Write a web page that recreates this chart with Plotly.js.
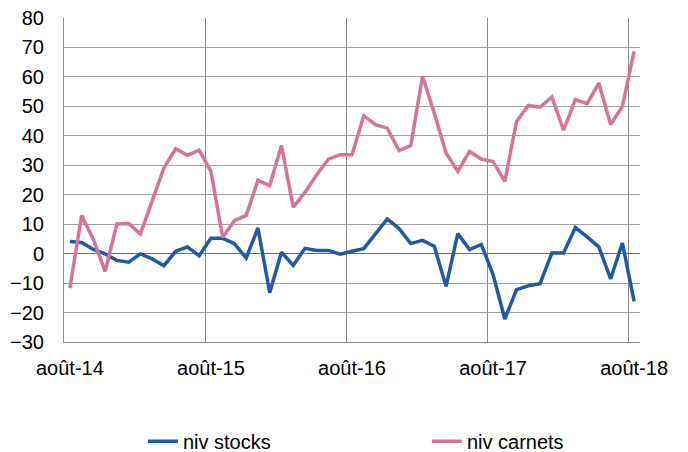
<!DOCTYPE html>
<html>
<head>
<meta charset="utf-8">
<script src="https://cdn.plot.ly/plotly-3.0.1.min.js"></script>
<style>html,body{margin:0;padding:0;background:#fff}#chart{width:688px;height:452px}</style>
</head>
<body>
<div id="chart"></div>
<script>
const months = [
  "août-14","sept-14","oct-14","nov-14","déc-14","janv-15","févr-15","mars-15","avr-15","mai-15","juin-15","juil-15",
  "août-15","sept-15","oct-15","nov-15","déc-15","janv-16","févr-16","mars-16","avr-16","mai-16","juin-16","juil-16",
  "août-16","sept-16","oct-16","nov-16","déc-16","janv-17","févr-17","mars-17","avr-17","mai-17","juin-17","juil-17",
  "août-17","sept-17","oct-17","nov-17","déc-17","janv-18","févr-18","mars-18","avr-18","mai-18","juin-18","juil-18",
  "août-18"
];
const nivStocks = [
  4.1, 3.8, 1.4, -0.1, -2.3, -2.9, -0.1, -1.8, -4.1, 0.8, 2.3, -0.7,
  5.2, 5.2, 3.4, -1.5, 8.7, -13.3, 0.5, -4.0, 1.8, 1.1, 1.1, -0.2,
  0.8, 1.7, 6.7, 11.8, 8.5, 3.4, 4.5, 2.5, -11.1, 6.8, 1.4, 3.1,
  -7.1, -22.2, -12.2, -10.9, -10.2, 0.2, 0.2, 8.9, 5.7, 2.3, -8.6, 3.6,
  -16.2
];
const nivCarnets = [
  -11.7, 12.9, 4.8, -6.0, 10.1, 10.2, 6.7, 17.5, 29.1, 35.6, 33.4, 35.1,
  27.9, 5.5, 11.2, 13.0, 24.9, 23.1, 36.7, 15.8, 20.8, 26.8, 32.1, 33.6,
  33.6, 46.8, 43.8, 42.6, 35.0, 36.7, 60.2, 47.7, 34.2, 27.9, 34.7, 32.1,
  31.3, 24.5, 44.9, 50.3, 49.7, 53.2, 41.9, 52.3, 50.9, 57.9, 43.8, 50.0,
  68.7
];
const seriesNames = ["niv stocks", "niv carnets"];
const yTicks = [-30, -20, -10, 0, 10, 20, 30, 40, 50, 60, 70, 80];

const xIdx = months.map((m, i) => i);
const labelIdx = xIdx.filter(i => months[i].startsWith("août"));
const labelText = labelIdx.map(i => months[i]);
const boundaries = labelIdx.map(i => i - 0.5);

const traces = [
  {x: xIdx, y: nivStocks, text: months, name: seriesNames[0], type: "scatter", mode: "lines",
   legend: "legend",
   line: {color: "#2159a5", width: 3.5}, hovertemplate: "%{text}: %{y}<extra></extra>"},
  {x: xIdx, y: nivCarnets, text: months, name: seriesNames[1], type: "scatter", mode: "lines",
   legend: "legend2",
   line: {color: "#d5739a", width: 3.5}, hovertemplate: "%{text}: %{y}<extra></extra>"}
];

const legendCommon = {
  orientation: "h", xanchor: "left", yanchor: "middle", y: -0.306,
  font: {size: 20, color: "#000"}, bgcolor: "rgba(0,0,0,0)"
};

const layout = {
  width: 688, height: 452,
  margin: {l: 64, r: 48, t: 18, b: 110, autoexpand: false},
  paper_bgcolor: "#fff", plot_bgcolor: "#fff",
  font: {family: "Liberation Sans, Arial, sans-serif", size: 20, color: "#000"},
  showlegend: true,
  legend: Object.assign({}, legendCommon, {x: 0.137}),
  legend2: Object.assign({}, legendCommon, {x: 0.630}),
  xaxis: {
    range: [-0.5, 48.5], tickmode: "array", tickvals: labelIdx, ticktext: labelText,
    showgrid: false, zeroline: false, ticks: "", ticklabelstandoff: 8,
    showline: true, linecolor: "#8f8f8f", linewidth: 1,
    minor: {tickmode: "array", tickvals: boundaries, showgrid: true, gridcolor: "#8a8a8a", gridwidth: 1, ticks: ""},
    tickfont: {size: 20, color: "#000"}
  },
  yaxis: {
    range: [-30, 80], tickmode: "array", tickvals: yTicks,
    showgrid: true, gridcolor: "#a0a0a0", gridwidth: 1,
    zeroline: true, zerolinecolor: "#707070", zerolinewidth: 1.5,
    showline: true, linecolor: "#8f8f8f", linewidth: 1,
    ticks: "", ticklabelstandoff: 15,
    tickfont: {size: 20, color: "#000"}
  }
};

Plotly.newPlot("chart", traces, layout, {staticPlot: true, displayModeBar: false});
</script>
</body>
</html>
